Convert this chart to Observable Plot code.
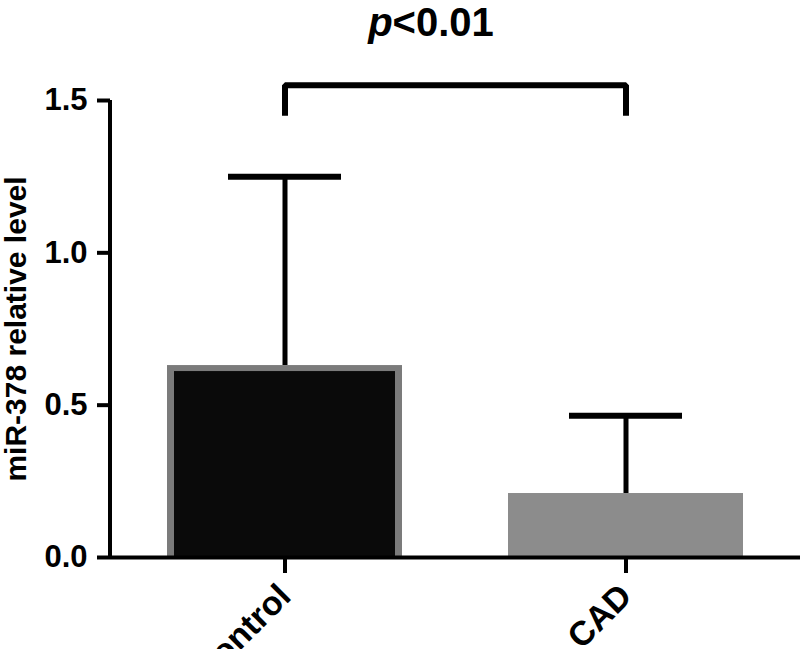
<!DOCTYPE html>
<html><head><meta charset="utf-8">
<script src="https://cdn.jsdelivr.net/npm/d3@7"></script>
<script src="https://cdn.jsdelivr.net/npm/@observablehq/plot@0.6"></script>
<style>
body{margin:0;background:#fff;font-family:"Liberation Sans",Arial,sans-serif;}
#wrap{position:relative;width:800px;height:649px;overflow:hidden;background:#fff;}
#title{position:absolute;top:0;left:431px;transform:translateX(-50%);font-size:40px;font-weight:bold;line-height:normal;white-space:nowrap;color:#000;}
#chart{position:absolute;top:60px;left:0;}
</style></head><body>
<div id="wrap"><div id="title"><i>p</i>&lt;0.01</div><div id="chart"></div></div>
<script>
const groups = ["Control", "CAD"];
const means = [0.63, 0.21];
const sds = [0.62, 0.255];
const yTicks = [0, 0.5, 1.0, 1.5];
const yLabel = "miR-378 relative level";
const bracketTop = 1.55;
const bracketFoot = 1.45;

const data = groups.map((g, i) => ({group: g, mean: means[i], upper: means[i] + sds[i]}));
const bracket = [
  {group: groups[0], y: bracketFoot},
  {group: groups[0], y: bracketTop},
  {group: groups[1], y: bracketTop},
  {group: groups[1], y: bracketFoot}
];

const plot = Plot.plot({
  width: 800, height: 589,
  marginLeft: 110, marginRight: 0, marginTop: 40, marginBottom: 92,
  style: {fontFamily: "Liberation Sans, Arial, sans-serif", fontWeight: "bold", color: "#000", background: "#fff", overflow: "visible"},
  x: {domain: groups, paddingInner: 0.31, paddingOuter: 0.164, label: null},
  y: {domain: [0, 1.5], label: null},
  color: {domain: groups, range: ["#7b7b7b", "#8c8c8c"]},
  marks: [
    Plot.barY(data, {x: "group", y: "mean", fill: "group"}),
    Plot.barY(data.filter(d => d.group === groups[0]), {x: "group", y: "mean", fill: "#0a0a0a", insetLeft: 7, insetRight: 7, insetTop: 6}),
    Plot.ruleX(data, {x: "group", y1: "mean", y2: "upper", stroke: "#000", strokeWidth: 5}),
    Plot.tickY(data, {x: "group", y: "upper", stroke: "#000", strokeWidth: 6, insetLeft: 61, insetRight: 61}),
    Plot.line(bracket, {x: "group", y: "y", stroke: "#000", strokeWidth: 6, strokeLinejoin: "miter", strokeLinecap: "butt"}),
    Plot.axisY({ticks: yTicks, tickFormat: d => d.toFixed(1), tickSize: 13, tickPadding: 10, strokeWidth: 4, fontSize: 31, fontWeight: "bold", label: null}),
    Plot.axisX({tickSize: 16, tickPadding: 17, tickRotate: -45, strokeWidth: 4, fontSize: 34, fontWeight: "bold", label: null}),
    Plot.ruleY([0], {stroke: "#000", strokeWidth: 4}),
    Plot.text([yLabel], {frameAnchor: "left", rotate: -90, dx: -94, fontSize: 30, fontWeight: "bold", textAnchor: "middle", lineAnchor: "middle", fill: "#000"})
  ]
});

const xs = plot.scale("x"), ys = plot.scale("y");
d3.select(plot).append("line")
  .attr("x1", xs.range[0]).attr("x2", xs.range[0])
  .attr("y1", ys.apply(0) + 2).attr("y2", ys.apply(yTicks[yTicks.length - 1]))
  .attr("stroke", "#000").attr("stroke-width", 4);

document.getElementById("chart").appendChild(plot);
</script>
</body></html>
